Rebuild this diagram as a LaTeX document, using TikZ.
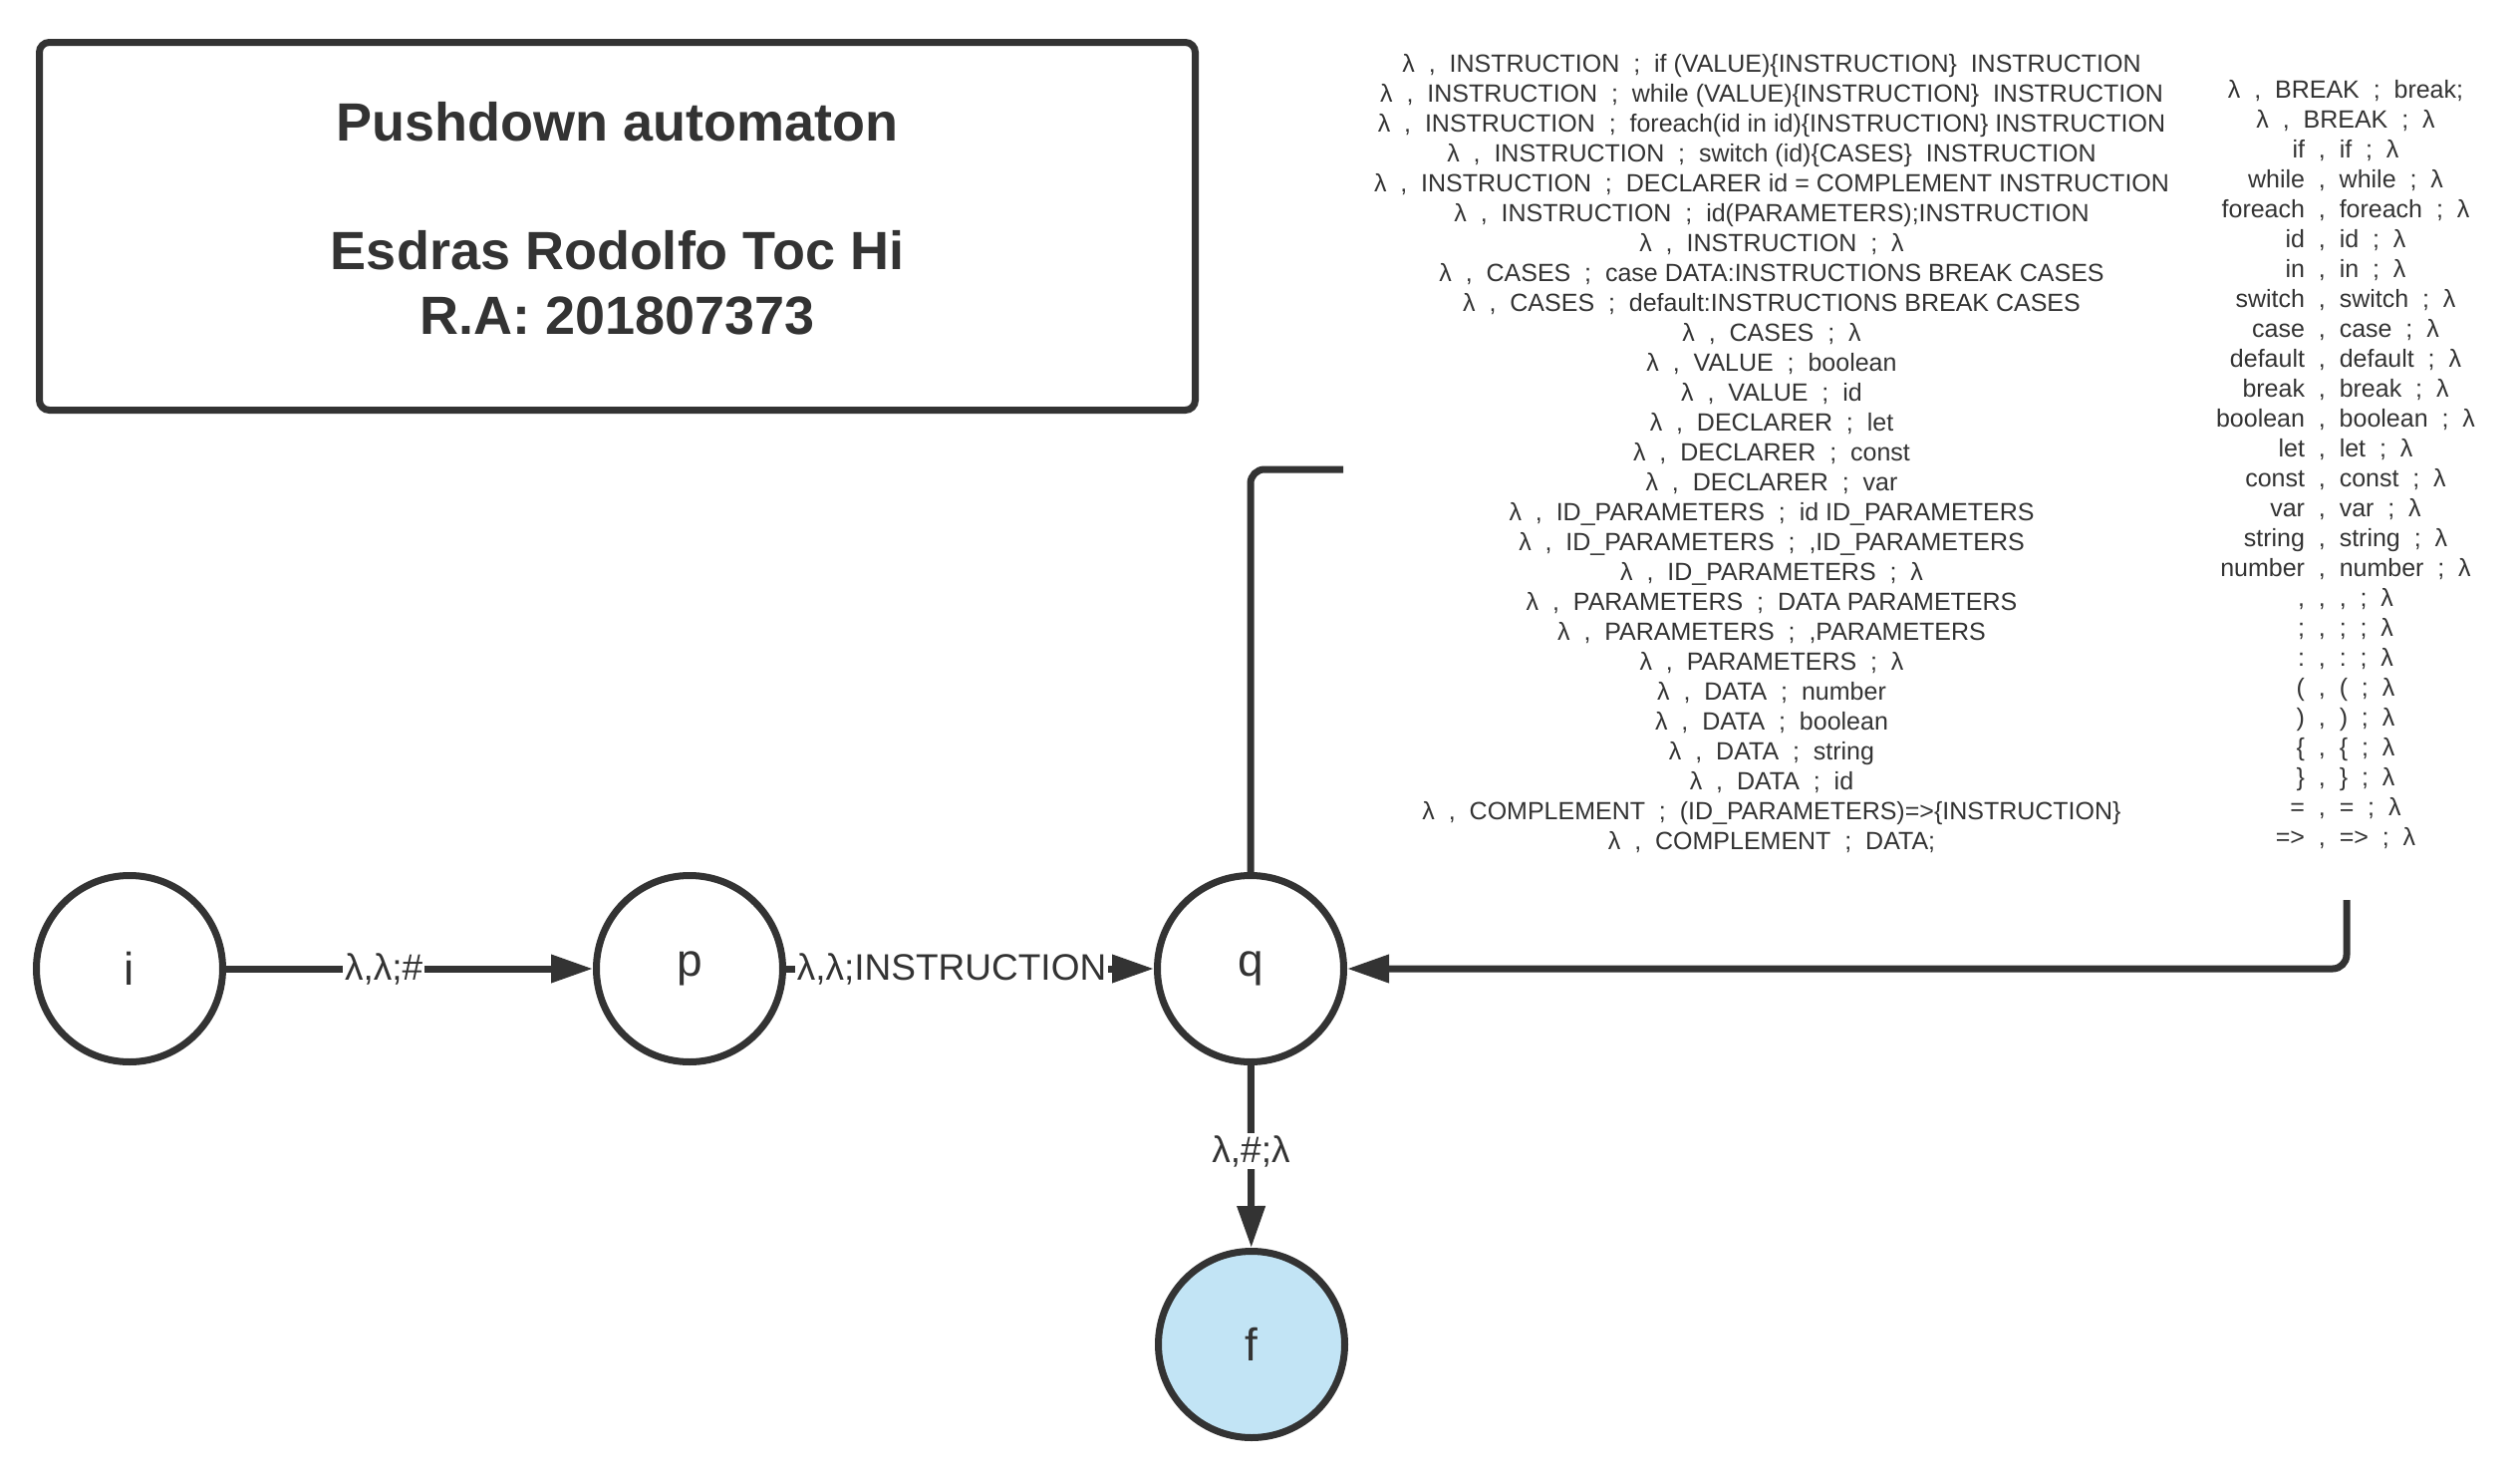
\documentclass[tikz,border=0pt]{standalone}
\usepackage{fontspec}
\setmainfont{Liberation Sans}
\usetikzlibrary{arrows.meta}
\definecolor{ink}{HTML}{333333}
\definecolor{finalblue}{RGB}{194,228,245}

\begin{document}
\begin{tikzpicture}[x=0.5pt, y=-0.5pt, >={Triangle[length=21pt,width=13.5pt]}, line width=3.5pt, color=ink,
    pstate/.style={circle, draw, minimum size=93.5pt, inner sep=0pt, font=\fontsize{23}{27}\selectfont},
    edgelabel/.style={fill=white, inner sep=1pt, font=\fontsize{18.5}{22}\selectfont},
    rulelist/.style={align=center, inner sep=0pt, font=\fontsize{12.5}{15}\selectfont}]
    \useasboundingbox (0,0) rectangle (2529,1483);

    \draw[rounded corners=5pt] (39.5,42.5) rectangle (1199.5,411.5);
    \node[align=center, font=\bfseries\fontsize{27}{32.5}\selectfont] (title) at (619.5,219)
        {Pushdown automaton\\[32pt]Esdras Rodolfo Toc Hi\\R.A: 201807373};

    \node[pstate] (i) at (130,972) {i};
    \node[pstate] (p) at (692,972) {p};
    \node[pstate] (q) at (1255,972) {q};
    \node[pstate, fill=finalblue] (f) at (1256,1349) {f};

    \draw[->] (i) -- node[edgelabel, pos=0.43] {λ,λ;\#} (p);
    \draw[->] (p) -- node[edgelabel, pos=0.45] {λ,λ;INSTRUCTION} (q);
    \draw[->] (q) -- node[edgelabel, pos=0.47] {λ,\#;λ} (f);

    % loop on q, its label sits in the gap
    \coordinate (loopend) at (1348,471);
    \coordinate (loopback) at (2355,903);
    \draw[rounded corners=7pt] (q.north) -- (q.north |- loopend) -- (loopend);
    \draw[->, rounded corners=7pt] (loopback) -- (loopback |- q.east) -- (q.east);

    \node[rulelist] (rules) at (1778,455) {%
        λ~~,~~INSTRUCTION~~;~~if (VALUE)\{INSTRUCTION\}~~INSTRUCTION\\
        λ~~,~~INSTRUCTION~~;~~while (VALUE)\{INSTRUCTION\}~~INSTRUCTION\\
        λ~~,~~INSTRUCTION~~;~~foreach(id in id)\{INSTRUCTION\} INSTRUCTION\\
        λ~~,~~INSTRUCTION~~;~~switch (id)\{CASES\}~~INSTRUCTION\\
        λ~~,~~INSTRUCTION~~;~~DECLARER id = COMPLEMENT INSTRUCTION\\
        λ~~,~~INSTRUCTION~~;~~id(PARAMETERS);INSTRUCTION\\
        λ~~,~~INSTRUCTION~~;~~λ\\
        λ~~,~~CASES~~;~~case DATA:INSTRUCTIONS BREAK CASES\\
        λ~~,~~CASES~~;~~default:INSTRUCTIONS BREAK CASES\\
        λ~~,~~CASES~~;~~λ\\
        λ~~,~~VALUE~~;~~boolean\\
        λ~~,~~VALUE~~;~~id\\
        λ~~,~~DECLARER~~;~~let\\
        λ~~,~~DECLARER~~;~~const\\
        λ~~,~~DECLARER~~;~~var\\
        λ~~,~~ID\_PARAMETERS~~;~~id ID\_PARAMETERS\\
        λ~~,~~ID\_PARAMETERS~~;~~,ID\_PARAMETERS\\
        λ~~,~~ID\_PARAMETERS~~;~~λ\\
        λ~~,~~PARAMETERS~~;~~DATA PARAMETERS\\
        λ~~,~~PARAMETERS~~;~~,PARAMETERS\\
        λ~~,~~PARAMETERS~~;~~λ\\
        λ~~,~~DATA~~;~~number\\
        λ~~,~~DATA~~;~~boolean\\
        λ~~,~~DATA~~;~~string\\
        λ~~,~~DATA~~;~~id\\
        λ~~,~~COMPLEMENT~~;~~(ID\_PARAMETERS)=>\{INSTRUCTION\}\\
        λ~~,~~COMPLEMENT~~;~~DATA;};

    \node[rulelist] (tokens) at (2354,466) {%
        λ~~,~~BREAK~~;~~break;\\
        λ~~,~~BREAK~~;~~λ\\
        if~~,~~if~~;~~λ\\
        while~~,~~while~~;~~λ\\
        foreach~~,~~foreach~~;~~λ\\
        id~~,~~id~~;~~λ\\
        in~~,~~in~~;~~λ\\
        switch~~,~~switch~~;~~λ\\
        case~~,~~case~~;~~λ\\
        default~~,~~default~~;~~λ\\
        break~~,~~break~~;~~λ\\
        boolean~~,~~boolean~~;~~λ\\
        let~~,~~let~~;~~λ\\
        const~~,~~const~~;~~λ\\
        var~~,~~var~~;~~λ\\
        string~~,~~string~~;~~λ\\
        number~~,~~number~~;~~λ\\
        ,~~,~~,~~;~~λ\\
        ;~~,~~;~~;~~λ\\
        :~~,~~:~~;~~λ\\
        (~~,~~(~~;~~λ\\
        )~~,~~)~~;~~λ\\
        \{~~,~~\{~~;~~λ\\
        \}~~,~~\}~~;~~λ\\
        =~~,~~=~~;~~λ\\
        =>~~,~~=>~~;~~λ};
\end{tikzpicture}
\end{document}
